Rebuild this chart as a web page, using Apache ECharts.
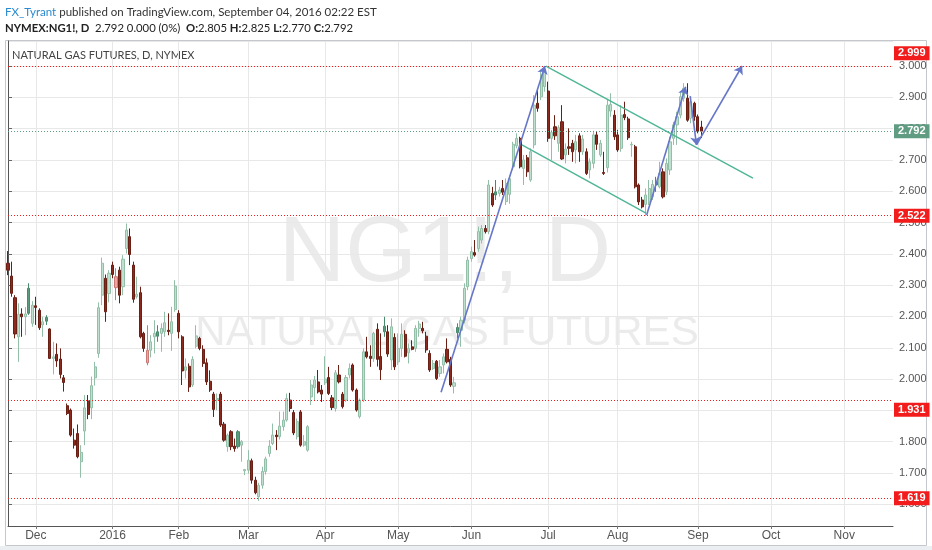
<!DOCTYPE html>
<html>
<head>
<meta charset="utf-8">
<title>NATURAL GAS FUTURES, D, NYMEX</title>
<script src="https://cdn.jsdelivr.net/npm/echarts@6/dist/echarts.min.js"></script>
<style>
    html, body { margin: 0; padding: 0; background: #fff; }
    #chart { width: 932px; height: 550px; }
</style>
</head>
<body>
<div id="chart"></div>
<script>
// NYMEX:NG1! daily bars, one row per trading day: [open, high, low, close]
const ohlc = [
    [2.370, 2.409, 2.332, 2.348], [2.329, 2.375, 2.263, 2.274], [2.260, 2.268, 2.130, 2.144], [2.135, 2.242, 2.055, 2.207],
    [2.208, 2.226, 2.135, 2.199], [2.199, 2.230, 2.140, 2.208], [2.210, 2.306, 2.205, 2.290], [2.178, 2.249, 2.167, 2.236],
    [2.234, 2.263, 2.173, 2.229], [2.220, 2.226, 2.157, 2.164], [2.173, 2.199, 2.135, 2.183], [2.185, 2.204, 2.173, 2.197],
    [2.160, 2.162, 2.064, 2.066], [2.066, 2.119, 2.015, 2.071], [2.079, 2.114, 2.039, 2.058], [2.064, 2.098, 2.002, 2.015],
    [2.004, 2.013, 1.960, 1.989], [1.915, 1.922, 1.885, 1.890], [1.901, 1.906, 1.816, 1.821], [1.805, 1.842, 1.778, 1.789],
    [1.826, 1.855, 1.747, 1.752], [1.736, 1.789, 1.685, 1.766], [1.834, 1.949, 1.789, 1.908], [1.930, 1.949, 1.872, 1.887],
    [1.908, 2.008, 1.872, 1.979], [2.004, 2.055, 1.979, 2.039], [2.082, 2.245, 2.068, 2.228], [2.268, 2.388, 2.236, 2.370],
    [2.322, 2.334, 2.183, 2.215], [2.273, 2.348, 2.245, 2.338], [2.364, 2.375, 2.322, 2.334], [2.327, 2.354, 2.252, 2.292],
    [2.348, 2.359, 2.242, 2.268], [2.295, 2.396, 2.268, 2.383], [2.417, 2.497, 2.401, 2.476], [2.455, 2.481, 2.364, 2.398],
    [2.364, 2.375, 2.244, 2.255], [2.263, 2.327, 2.257, 2.271], [2.276, 2.295, 2.130, 2.135], [2.146, 2.151, 2.087, 2.098],
    [2.092, 2.172, 2.044, 2.052], [2.092, 2.140, 2.069, 2.119], [2.135, 2.188, 2.082, 2.146], [2.137, 2.172, 2.119, 2.151],
    [2.146, 2.178, 2.087, 2.162], [2.151, 2.215, 2.135, 2.180], [2.156, 2.210, 2.140, 2.152], [2.146, 2.231, 2.090, 2.183],
    [2.222, 2.316, 2.215, 2.297], [2.210, 2.220, 2.130, 2.151], [2.135, 2.140, 1.981, 2.026], [2.028, 2.066, 2.002, 2.039],
    [2.041, 2.050, 1.959, 1.975], [1.981, 2.073, 1.975, 2.063], [2.105, 2.172, 2.098, 2.138], [2.130, 2.135, 2.092, 2.098],
    [2.095, 2.108, 2.039, 2.050], [2.052, 2.066, 1.981, 1.991], [1.993, 2.028, 1.959, 1.965], [1.952, 1.959, 1.879, 1.903],
    [1.933, 1.954, 1.901, 1.938], [1.952, 1.959, 1.847, 1.853], [1.856, 1.863, 1.800, 1.805], [1.784, 1.826, 1.768, 1.821],
    [1.832, 1.837, 1.773, 1.784], [1.786, 1.810, 1.768, 1.778], [1.784, 1.837, 1.778, 1.832], [1.789, 1.805, 1.736, 1.800],
    [1.707, 1.713, 1.693, 1.711], [1.709, 1.773, 1.698, 1.741], [1.739, 1.746, 1.666, 1.677], [1.677, 1.688, 1.632, 1.637],
    [1.624, 1.669, 1.611, 1.661], [1.661, 1.720, 1.650, 1.705], [1.705, 1.752, 1.695, 1.745], [1.762, 1.805, 1.752, 1.786],
    [1.794, 1.858, 1.789, 1.821], [1.821, 1.837, 1.773, 1.816], [1.816, 1.896, 1.807, 1.850], [1.848, 1.896, 1.835, 1.869],
    [1.869, 1.954, 1.864, 1.938], [1.933, 1.956, 1.896, 1.906], [1.893, 1.901, 1.821, 1.828], [1.816, 1.874, 1.807, 1.864],
    [1.895, 1.901, 1.784, 1.789], [1.789, 1.821, 1.784, 1.800], [1.773, 1.853, 1.768, 1.848], [1.943, 1.997, 1.917, 1.981],
    [1.973, 2.010, 1.933, 1.997], [1.991, 2.029, 1.954, 1.959], [1.965, 1.981, 1.927, 1.952], [1.988, 2.073, 1.981, 2.000],
    [2.005, 2.039, 1.949, 1.954], [1.940, 1.949, 1.901, 1.909], [1.906, 2.029, 1.896, 2.020], [2.013, 2.045, 1.986, 1.991],
    [1.952, 1.959, 1.906, 1.912], [1.933, 2.013, 1.927, 2.005], [2.013, 2.050, 2.002, 2.034], [2.045, 2.050, 1.960, 1.965],
    [1.965, 1.970, 1.896, 1.901], [1.880, 1.938, 1.874, 1.933], [1.933, 2.098, 1.927, 2.087], [2.087, 2.135, 2.066, 2.071],
    [2.073, 2.108, 2.039, 2.066], [2.066, 2.151, 2.055, 2.146], [2.159, 2.178, 2.040, 2.063], [2.072, 2.146, 1.997, 2.030],
    [2.151, 2.199, 2.135, 2.169], [2.151, 2.172, 2.071, 2.080], [2.061, 2.194, 2.029, 2.167], [2.133, 2.146, 2.029, 2.039],
    [2.055, 2.146, 2.045, 2.098], [2.098, 2.178, 2.071, 2.143], [2.143, 2.156, 2.069, 2.073], [2.084, 2.114, 2.050, 2.098],
    [2.103, 2.124, 2.092, 2.095], [2.098, 2.172, 2.087, 2.162], [2.162, 2.186, 2.135, 2.176], [2.162, 2.183, 2.146, 2.154],
    [2.137, 2.151, 2.084, 2.093], [2.082, 2.092, 2.023, 2.029], [2.034, 2.061, 2.029, 2.050], [2.057, 2.061, 1.997, 2.002],
    [2.018, 2.061, 2.007, 2.039], [2.045, 2.082, 2.018, 2.071], [2.095, 2.130, 2.050, 2.055], [2.063, 2.071, 1.975, 1.981],
    [1.977, 2.007, 1.954, 1.988], [2.148, 2.178, 2.130, 2.165], [2.156, 2.199, 2.103, 2.188], [2.188, 2.306, 2.178, 2.290],
    [2.295, 2.391, 2.284, 2.380], [2.385, 2.423, 2.375, 2.407], [2.404, 2.444, 2.391, 2.396], [2.417, 2.487, 2.407, 2.471],
    [2.444, 2.492, 2.433, 2.481], [2.481, 2.492, 2.465, 2.471], [2.471, 2.636, 2.463, 2.620], [2.593, 2.614, 2.550, 2.556],
    [2.588, 2.636, 2.572, 2.598], [2.593, 2.614, 2.583, 2.604], [2.609, 2.636, 2.588, 2.597], [2.567, 2.641, 2.556, 2.625],
    [2.590, 2.650, 2.560, 2.640], [2.678, 2.758, 2.668, 2.750], [2.745, 2.785, 2.737, 2.769], [2.769, 2.774, 2.673, 2.678],
    [2.673, 2.716, 2.620, 2.700], [2.707, 2.716, 2.646, 2.662], [2.636, 2.737, 2.630, 2.726], [2.748, 2.907, 2.737, 2.875],
    [2.881, 2.929, 2.854, 2.865], [2.902, 2.982, 2.891, 2.971], [2.934, 2.999, 2.918, 2.987], [2.920, 2.950, 2.758, 2.769],
    [2.769, 2.796, 2.700, 2.788], [2.806, 2.843, 2.764, 2.777], [2.753, 2.811, 2.726, 2.803], [2.822, 2.875, 2.700, 2.703],
    [2.716, 2.753, 2.689, 2.735], [2.742, 2.801, 2.716, 2.737], [2.753, 2.764, 2.694, 2.726], [2.732, 2.780, 2.689, 2.758],
    [2.777, 2.785, 2.694, 2.726], [2.726, 2.780, 2.716, 2.767], [2.726, 2.737, 2.652, 2.657], [2.668, 2.705, 2.641, 2.694],
    [2.689, 2.793, 2.673, 2.780], [2.780, 2.790, 2.732, 2.750], [2.716, 2.764, 2.710, 2.753], [2.660, 2.726, 2.652, 2.657],
    [2.675, 2.895, 2.660, 2.875], [2.856, 2.913, 2.838, 2.877], [2.843, 2.859, 2.764, 2.774], [2.780, 2.796, 2.726, 2.732],
    [2.737, 2.875, 2.726, 2.843], [2.845, 2.886, 2.827, 2.835], [2.831, 2.838, 2.764, 2.771], [2.748, 2.758, 2.710, 2.750],
    [2.742, 2.748, 2.609, 2.614], [2.620, 2.625, 2.556, 2.566], [2.572, 2.582, 2.545, 2.550], [2.558, 2.609, 2.522, 2.588],
    [2.566, 2.636, 2.556, 2.609], [2.582, 2.636, 2.572, 2.622], [2.620, 2.646, 2.598, 2.630], [2.614, 2.694, 2.609, 2.657],
    [2.662, 2.673, 2.577, 2.582], [2.598, 2.705, 2.588, 2.689], [2.668, 2.774, 2.652, 2.758], [2.769, 2.822, 2.748, 2.812],
    [2.812, 2.854, 2.748, 2.838], [2.843, 2.918, 2.833, 2.902], [2.897, 2.945, 2.886, 2.929], [2.897, 2.945, 2.822, 2.827],
    [2.833, 2.902, 2.817, 2.886], [2.881, 2.886, 2.825, 2.838], [2.838, 2.845, 2.785, 2.792], [2.805, 2.825, 2.770, 2.792]
];

// bars drawn in the darker green / pale red shade
const darkUpBars = [6, 11, 43, 66, 108, 129, 140, 186];
const paleDownBars = [31, 40];

// trading calendar: first bar, number of slots on the axis, exchange holidays
const firstDay = '2015-11-18';
const slotCount = 255;
const holidays = ['2015-11-26', '2015-12-25', '2016-01-01', '2016-01-18', '2016-02-15',
    '2016-03-25', '2016-05-30', '2016-07-04', '2016-09-05'];
const monthNames = ['2016', 'Feb', 'Mar', 'Apr', 'May', 'Jun', 'Jul', 'Aug', 'Sep', 'Oct', 'Nov', 'Dec'];

// horizontal levels drawn on the chart, and the last price line
const levels = [2.999, 2.522, 1.931, 1.619];
const lastPrice = 2.792;

// drawings, [bar index, price] to [bar index, price]
const arrowLines = [
    [[124.3, 1.958], [154.1, 3.000]],
    [[183.3, 2.524], [194.5, 2.934]],
    [[195.8, 2.904], [197.6, 2.748]],
    [[197.6, 2.748], [210.7, 3.000]]
];
const channelLines = [
    [[154.4, 3.000], [213.8, 2.642]],
    [[147.5, 2.748], [183.1, 2.530]]
];

(function (echarts) {
    'use strict';

    const dates = [];
    const d = new Date(firstDay + 'T00:00:00Z');
    while (dates.length < slotCount) {
        const s = d.toISOString().slice(0, 10);
        const wd = d.getUTCDay();
        if (wd !== 0 && wd !== 6 && holidays.indexOf(s) < 0)
            dates.push(s);
        d.setUTCDate(d.getUTCDate() + 1);
    }
    const isMonthStart = function (i) {
        return i > 0 && dates[i].slice(5, 7) !== dates[i - 1].slice(5, 7);
    };

    const candles = ohlc.map(function (b, i) {
        const item = {value: [b[0], b[3], b[2], b[1]]};
        if (darkUpBars.indexOf(i) >= 0)
            item.itemStyle = {color: '#5b9c7e', borderColor: '#4a8a6c'};
        if (paleDownBars.indexOf(i) >= 0)
            item.itemStyle = {color0: '#f2a3a0', borderColor0: '#c97a76'};
        return item;
    });

    const last = ohlc[ohlc.length - 1];
    const prevClose = ohlc[ohlc.length - 2][3];
    const change = last[3] - prevClose;

    const axisFont = "'Liberation Sans Narrow', 'Liberation Sans', Arial, sans-serif";
    const headFont = "Lato, 'Open Sans', sans-serif";

    const levelLabelOffset = {'2.999': [0, -13], '1.931': [0, 9]};
    const levelMarks = levels.map(function (v) {
        return {
            yAxis: v,
            label: {offset: levelLabelOffset[v.toFixed(3)] || [0, 0]}
        };
    });

    const segMarks = function (lines) {
        return lines.map(function (l) {
            return [{coord: l[0]}, {coord: l[1]}];
        });
    };

    const option = {
        animation: false,
        backgroundColor: '#ffffff',
        grid: {left: 8, right: 39, top: 41, bottom: 24},
        xAxis: [{
            type: 'category',
            data: dates,
            boundaryGap: false,
            axisLine: {lineStyle: {color: '#555'}},
            axisTick: {
                show: true, length: 3, interval: isMonthStart,
                lineStyle: {color: '#777'}
            },
            axisLabel: {
                interval: isMonthStart,
                margin: 4,
                color: '#555',
                fontSize: 12,
                fontFamily: axisFont,
                formatter: function (v) {
                    return monthNames[parseInt(v.slice(5, 7), 10) - 1];
                }
            },
            splitLine: {show: true, interval: isMonthStart, lineStyle: {color: '#e8e8e8'}}
        }, {
            type: 'value',
            min: 0,
            max: slotCount - 1,
            show: false
        }],
        yAxis: {
            type: 'value',
            position: 'right',
            min: 1.5307,
            max: 3.0799,
            splitNumber: 15,
            scale: true,
            axisLine: {show: true, lineStyle: {color: '#555'}},
            axisTick: {show: true, length: 4, lineStyle: {color: '#666'}},
            axisLabel: {
                margin: 6,
                color: '#555',
                fontSize: 11,
                fontFamily: axisFont,
                showMinLabel: false,
                showMaxLabel: false,
                formatter: function (v) {
                    return v.toFixed(3);
                }
            },
            splitLine: {lineStyle: {color: '#e8e8e8'}}
        },
        graphic: [
            {
                type: 'rect', z: -10, silent: true,
                shape: {x: 5.5, y: 40.5, width: 921, height: 505},
                style: {fill: 'none', stroke: '#c4c8cc', lineWidth: 1}
            },
            {
                type: 'rect', z: -10, silent: true,
                shape: {x: 0, y: 546, width: 932, height: 4},
                style: {fill: '#eceff2'}
            },
            {
                type: 'text', silent: true, x: 5, y: 12,
                style: {
                    text: '{u|FX_Tyrant} published on TradingView.com, September 04, 2016 02:22 EST',
                    fontFamily: headFont, fontSize: 11.5, fill: '#333', verticalAlign: 'middle',
                    rich: {u: {fill: '#2a8bd0', fontFamily: headFont, fontSize: 11.5}}
                }
            },
            {
                type: 'text', silent: true, x: 5, y: 28,
                style: {
                    text: '{b|NYMEX:NG1!, D}  ' + last[3].toFixed(3) + ' ' + change.toFixed(3) +
                        ' (' + (change / prevClose * 100).toFixed(0) + '%)  ' +
                        '{b|O:}' + last[0].toFixed(3) + ' {b|H:}' + last[1].toFixed(3) +
                        ' {b|L:}' + last[2].toFixed(3) + ' {b|C:}' + last[3].toFixed(3),
                    fontFamily: headFont, fontSize: 11.3, fill: '#222', verticalAlign: 'middle',
                    rich: {b: {fontWeight: 'bold', fontFamily: headFont, fontSize: 11.3, fill: '#222'}}
                }
            },
            {
                type: 'text', silent: true, x: 12, y: 55,
                style: {
                    text: 'NATURAL GAS FUTURES, D, NYMEX',
                    fontFamily: headFont, fontSize: 11, fill: '#444', verticalAlign: 'middle'
                }
            },
            {
                type: 'text', silent: true, z: -5, x: 445, y: 256,
                style: {
                    text: 'NG1!, D', fontFamily: 'Liberation Sans, Arial, sans-serif', fontSize: 92,
                    fill: 'rgba(120,120,120,0.15)', align: 'center', verticalAlign: 'middle'
                }
            },
            {
                type: 'text', silent: true, z: -5, x: 447, y: 333,
                style: {
                    text: 'NATURAL GAS FUTURES', fontFamily: 'Liberation Sans, Arial, sans-serif', fontSize: 42,
                    fill: 'rgba(120,120,120,0.15)', align: 'center', verticalAlign: 'middle'
                }
            }
        ],
        series: [{
            type: 'candlestick',
            data: candles,
            barWidth: 2.6,
            itemStyle: {
                color: '#bfe0cf',
                color0: '#8d2a1d',
                borderColor: '#93bfa9',
                borderColor0: '#6a1f15',
                borderWidth: 1
            },
            markLine: {
                silent: true,
                symbol: 'none',
                precision: 3,
                lineStyle: {color: '#f21c1c', type: [1, 2], width: 1},
                label: {
                    position: 'end',
                    distance: 1,
                    color: '#fff',
                    fontWeight: 'bold',
                    fontSize: 11,
                    fontFamily: axisFont,
                    backgroundColor: '#f21c1c',
                    padding: [2, 4, 1, 4],
                    formatter: function (p) {
                        return p.value.toFixed(3);
                    }
                },
                data: levelMarks.concat([{
                    yAxis: lastPrice,
                    lineStyle: {color: '#5f9c82', type: [1, 2], width: 1},
                    label: {backgroundColor: '#5f9c82'}
                }])
            }
        }, {
            type: 'line',
            xAxisIndex: 1,
            data: [],
            markLine: {
                silent: true,
                symbol: ['none', 'arrow'],
                symbolSize: 8,
                label: {show: false},
                lineStyle: {color: '#6676c9', type: 'solid', width: 1.6},
                data: segMarks(arrowLines)
            }
        }, {
            type: 'line',
            xAxisIndex: 1,
            data: [],
            markLine: {
                silent: true,
                symbol: 'none',
                label: {show: false},
                lineStyle: {color: '#4fb596', type: 'solid', width: 1.4},
                data: segMarks(channelLines)
            }
        }]
    };

    const handle = echarts.init(document.getElementById('chart'), null, {renderer: 'canvas'});
    handle.setOption(option);
})(echarts);
</script>
</body>
</html>
